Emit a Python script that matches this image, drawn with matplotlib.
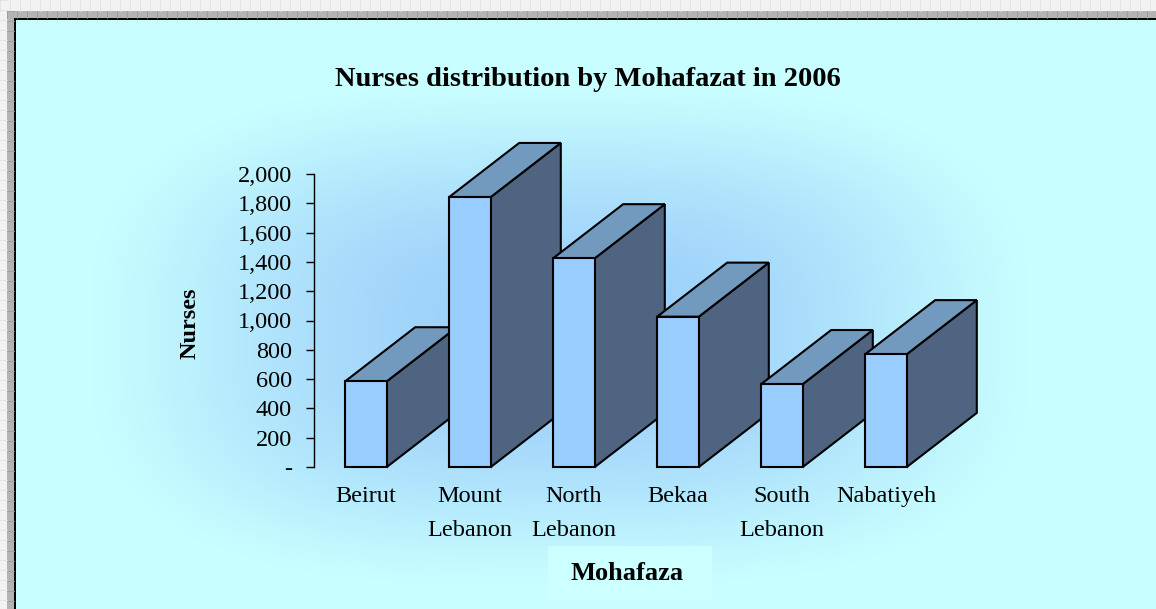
import numpy as np
import matplotlib
matplotlib.use("Agg")
import matplotlib.pyplot as plt
from matplotlib.patches import Polygon, Rectangle

# data
mohafazat = ["Beirut", "Mount\nLebanon", "North\nLebanon", "Bekaa", "South\nLebanon", "Nabatiyeh"]
nurses = [585, 1843, 1425, 1026, 566, 770]
yticks = list(range(0, 2001, 200))

W, H = 1156, 609
fig = plt.figure(figsize=(W / 100, H / 100), dpi=100)
fig.patch.set_facecolor("#CCFFFF")

# background layer in pixel coords: frame + gradient
bg = fig.add_axes([0, 0, 1, 1])
bg.set_xlim(0, W)
bg.set_ylim(H, 0)
bg.axis("off")
bg.add_patch(Rectangle((0, 0), W, H, facecolor="#F2F2F2", edgecolor="none"))
for gx in range(0, W, 10):
    bg.plot([gx, gx], [0, 11], color="#E2E2E2", lw=0.6)
for gy in range(0, H, 10):
    bg.plot([0, 7], [gy, gy], color="#E2E2E2", lw=0.6)
bg.add_patch(Rectangle((7, 11), W, H, facecolor="#B4B4B4", edgecolor="none"))
for gx in range(7, W, 10):
    bg.plot([gx, gx], [11, 18], color="#9A9A9A", lw=0.6)
for gy in range(11, H, 10):
    bg.plot([7, 14], [gy, gy], color="#9A9A9A", lw=0.6)
bg.add_patch(Rectangle((14, 18), W, H, facecolor="black", edgecolor="none"))
bg.add_patch(Rectangle((16, 20), W, H, facecolor="#C8FEFF", edgecolor="none"))

# plot area gradient (soft rounded-rectangle centre fill like Excel)
gx, gy = np.meshgrid(np.linspace(-1, 1, 500), np.linspace(-1, 1, 260))
r = np.clip((np.abs(gx) ** 3 + np.abs(gy) ** 3) ** (1 / 3), 0, 1)
t = (1 - r ** 2) ** 1.3
c0 = np.array([200, 254, 255]) / 255.0
c1 = np.array([156, 206, 250]) / 255.0
img = c0[None, None, :] * (1 - t[..., None]) + c1[None, None, :] * t[..., None]
bg.imshow(img, extent=[90, 1030, 585, 85], aspect="auto", interpolation="bilinear", zorder=1)

# main axes: y-axis line at x=314 px, 0 at y=467 px, 2000 at y=174 px
x_left = -0.5
x_right = 5.9
ax_l = 314 / W
ax_w = (x_right - x_left) * 104 / W
ax_b = (H - 467) / H
ax_h = (467 - 174) / H
ax = fig.add_axes([ax_l, ax_b, ax_w, ax_h])
ax.set_facecolor("none")
ax.set_xlim(x_left, x_right)
ax.set_ylim(0, 2000)
for s in ["top", "right", "bottom"]:
    ax.spines[s].set_visible(False)
ax.spines["left"].set_linewidth(1.0)
ax.set_yticks(yticks)
ax.set_yticklabels(["-" if v == 0 else "{:,}".format(v) for v in yticks],
                   fontfamily="Liberation Serif", fontsize=17.5)
ax.tick_params(axis="y", direction="out", length=6, width=1, pad=10)
ax.set_xticks([])

# 3D-look bars
half = 0.2
ddx = 0.673
ddy = 369
for i, v in enumerate(nurses):
    side = Polygon([(i + half, 0), (i + half + ddx, ddy), (i + half + ddx, v + ddy), (i + half, v)],
                   closed=True, facecolor="#4E6480", edgecolor="black", lw=1.5, clip_on=False, zorder=3)
    top = Polygon([(i - half, v), (i + half, v), (i + half + ddx, v + ddy), (i - half + ddx, v + ddy)],
                  closed=True, facecolor="#7299BE", edgecolor="black", lw=1.5, clip_on=False, zorder=3)
    front = Rectangle((i - half, 0), 2 * half, v, facecolor="#99CCFF", edgecolor="black",
                      lw=1.5, clip_on=False, zorder=3)
    ax.add_patch(side)
    ax.add_patch(top)
    ax.add_patch(front)

# category labels under each front face
for i, lab in enumerate(mohafazat):
    ax.text(i, -128, lab, ha="center", va="top", fontfamily="Liberation Serif",
            fontsize=17.5, linespacing=1.85, clip_on=False)

fig.text(588 / W, 1 - 79 / H, "Nurses distribution by Mohafazat in 2006", ha="center", va="center",
         fontfamily="Liberation Serif", fontweight="bold", fontsize=20.5)
fig.text(190 / W, 1 - 323 / H, "Nurses", ha="center", va="center", rotation=90,
         fontfamily="Liberation Serif", fontweight="bold", fontsize=17.5)
bg.add_patch(Rectangle((548, 546), 164, 55, facecolor="#CCFFFF", edgecolor="none", zorder=2))
fig.text(627 / W, 1 - 573 / H, "Mohafaza", ha="center", va="center",
         fontfamily="Liberation Serif", fontweight="bold", fontsize=19)

fig.savefig("out.png", dpi=100, facecolor=fig.get_facecolor())
